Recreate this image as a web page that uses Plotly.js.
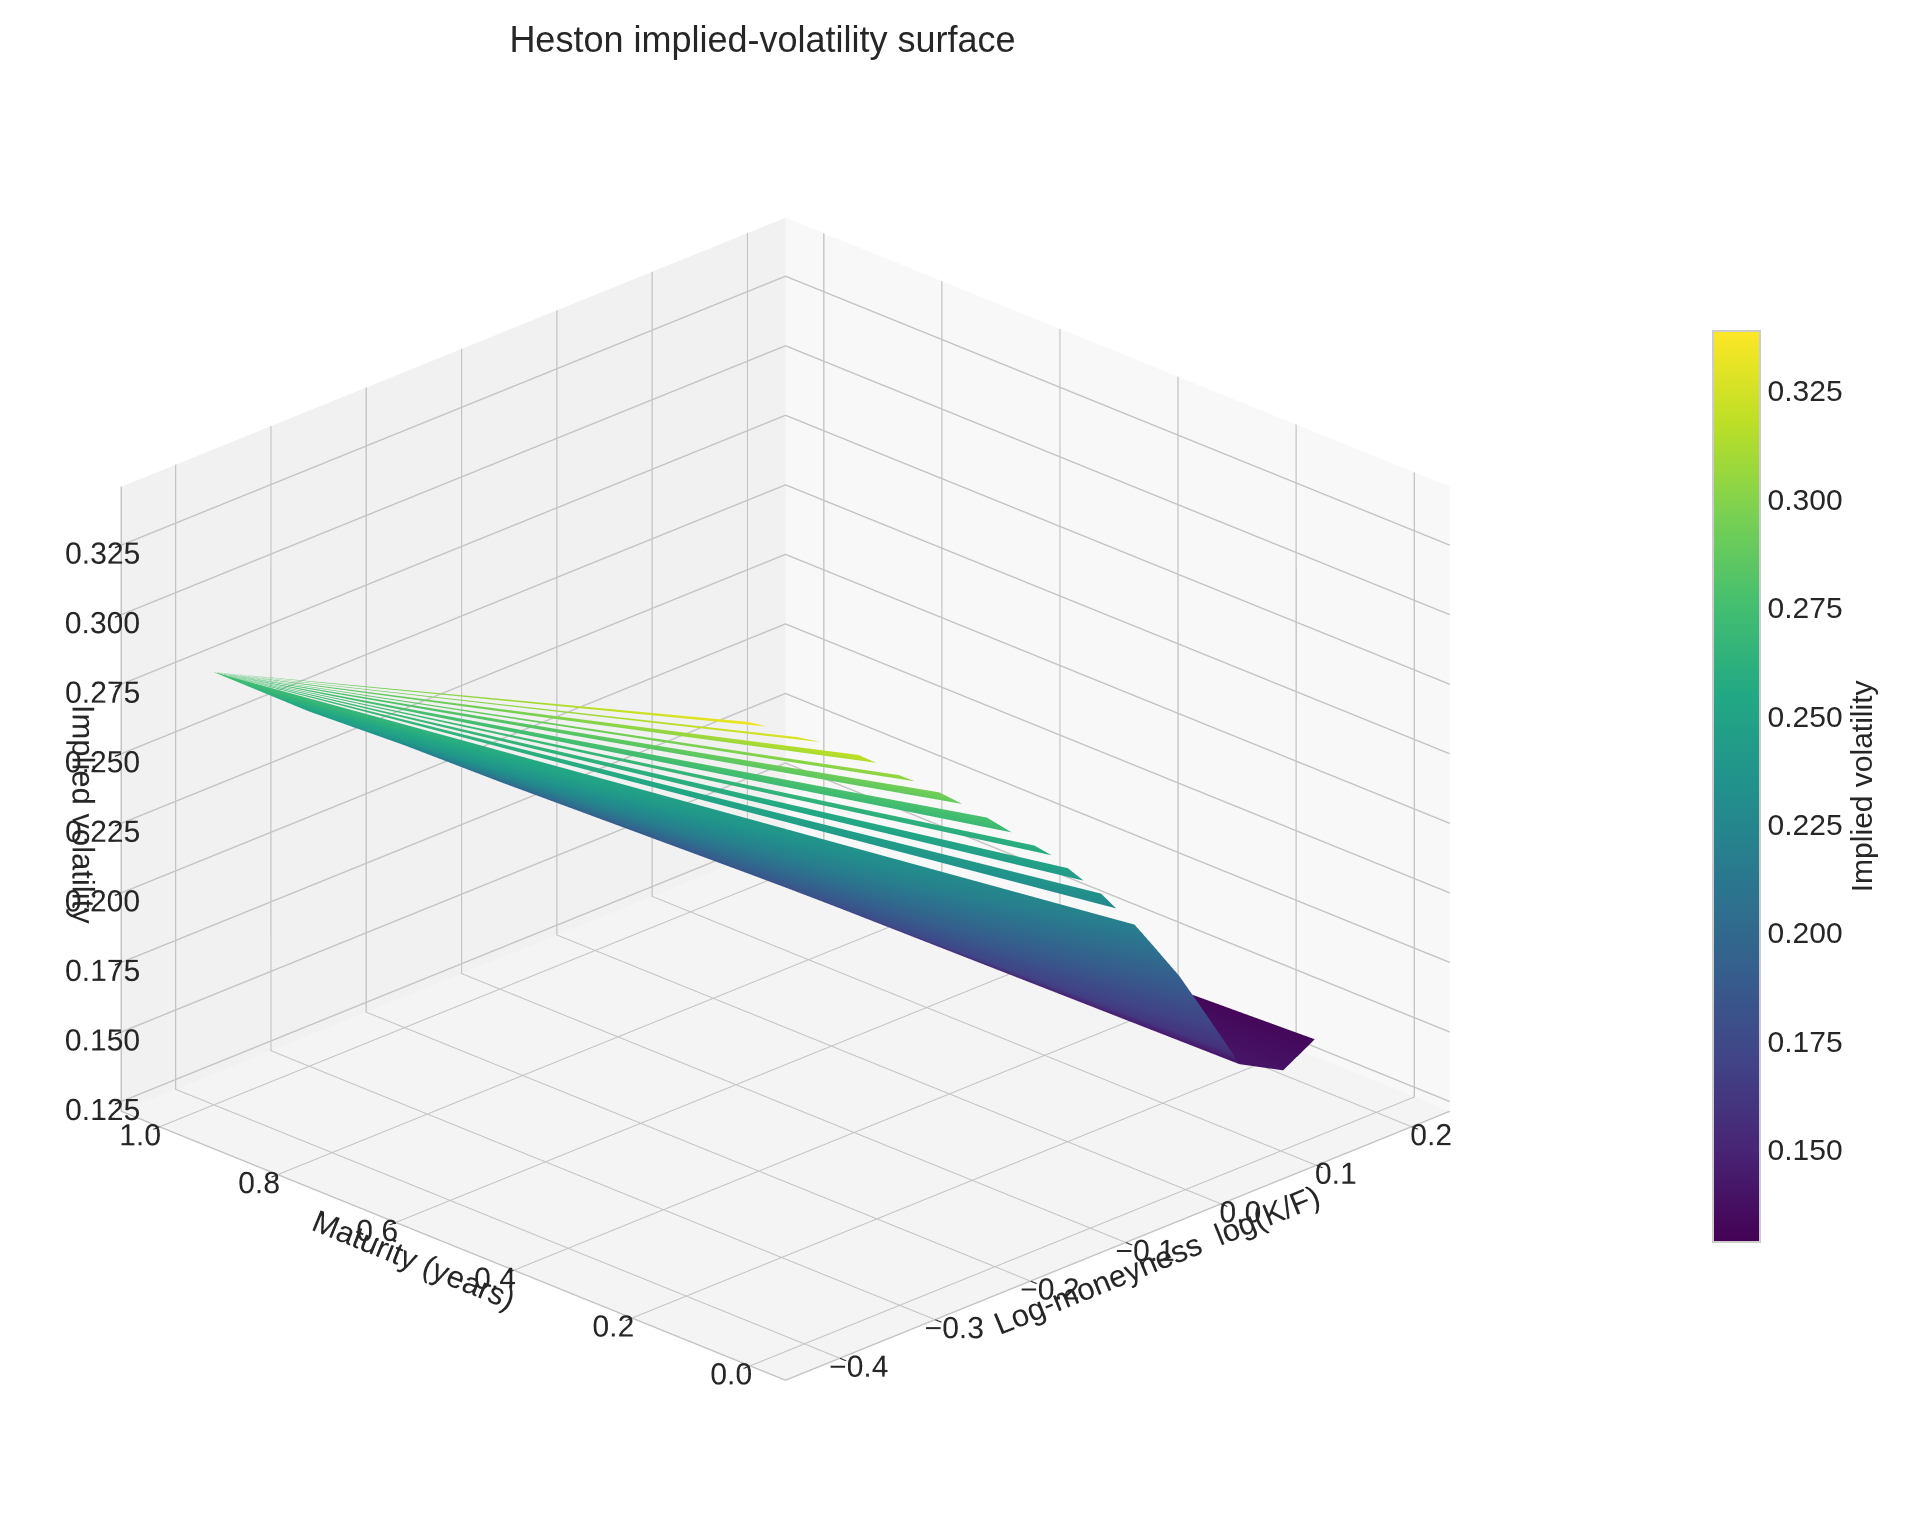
<!DOCTYPE html>
<html>
<head>
<meta charset="utf-8">
<script src="https://cdn.plot.ly/plotly-3.0.1.min.js"></script>
<style>
  html, body { margin: 0; padding: 0; background: #ffffff; }
  #ivPlot { width: 1911px; height: 1518px; }
</style>
</head>
<body>
<div id="ivPlot"></div>
<script>
// Heston implied-vol surface.
// Each row of the surface runs from the 1y corner (apex), through a knee
// on the 1y smile, out to a point on the short-maturity edge.
// A null edge vol marks a failed IV solve and leaves a hole in the surface.

// 1-year smile (long end of the surface); index 0 is the apex
var longMaturity  = 1.0;
var longMoneyness = [-0.40, -0.30, -0.20, -0.10, 0.00, 0.10, 0.20];
var longVol       = [0.277, 0.249, 0.223, 0.196, 0.171, 0.144, 0.131];

// short-maturity edge, one entry per surface row
var edgeMoneyness = [-0.393, -0.381, null, -0.369, -0.347, null, -0.324, -0.300, null,
                     -0.282, -0.260, null, -0.240, -0.208, null, -0.190, -0.155, null,
                     -0.140, -0.116, null, -0.105, -0.083, null, -0.070, -0.049, null,
                     -0.035, -0.016, 0.012, 0.039, 0.067, 0.124, 0.139, 0.221];
var edgeMaturity  = [0.106, 0.084, null, 0.062, 0.045, null, 0.031, 0.030, null,
                     0.030, 0.030, null, 0.030, 0.030, null, 0.030, 0.030, null,
                     0.030, 0.030, null, 0.030, 0.030, null, 0.030, 0.030, null,
                     0.030, 0.030, 0.030, 0.030, 0.030, 0.109, 0.059, 0.138];
var edgeVol       = [0.335, 0.333, null, 0.330, 0.326, null, 0.320, 0.313, null,
                     0.307, 0.301, null, 0.295, 0.285, null, 0.279, 0.267, null,
                     0.262, 0.254, null, 0.249, 0.240, null, 0.235, 0.225, null,
                     0.219, 0.209, 0.194, 0.177, 0.159, 0.140, 0.140, 0.133];
// which point of the 1y smile each row bends through
var kneeIndex     = [0, 0, 0, 0, 0, 0, 0, 0, 0,
                     0, 0, 0, 0, 0, 0, 0, 0, 0,
                     0, 0, 0, 0, 0, 0, 0, 0, 0,
                     0, 0, 1, 2, 3, 4, 5, 6];

var volMin = 0.1288;
var volMax = 0.3388;

var moneynessTicks = [-0.4, -0.3, -0.2, -0.1, 0.0, 0.1, 0.2];
var maturityTicks  = [0.0, 0.2, 0.4, 0.6, 0.8, 1.0];
var volTicks       = [0.125, 0.150, 0.175, 0.200, 0.225, 0.250, 0.275, 0.300, 0.325];
var colorbarTicks  = [0.150, 0.175, 0.200, 0.225, 0.250, 0.275, 0.300, 0.325];

var viridis = [
    [0.0, '#440154'], [0.1, '#482475'], [0.2, '#414487'], [0.3, '#355f8d'],
    [0.4, '#2a788e'], [0.5, '#21918c'], [0.6, '#22a884'], [0.7, '#44bf70'],
    [0.8, '#7ad151'], [0.9, '#bddf26'], [1.0, '#fde725']
];

function buildGrid() {
    var gx = [], gy = [], gz = [];
    for (var i = 0; i < edgeVol.length; ++i) {
        var k = kneeIndex[i];
        if (edgeVol[i] === null) {
            // failed solve: separator row, kills the cells on either side
            gx.push([longMoneyness[0], longMoneyness[k], longMoneyness[k]]);
            gy.push([longMaturity, longMaturity, longMaturity]);
            gz.push([null, null, null]);
        } else {
            gx.push([longMoneyness[0], longMoneyness[k], edgeMoneyness[i]]);
            gy.push([longMaturity, longMaturity, edgeMaturity[i]]);
            gz.push([longVol[0], longVol[k], edgeVol[i]]);
        }
    }
    return { x: gx, y: gy, z: gz };
}

var grid = buildGrid();
var txtColor = '#262626';
var fontFam = 'Liberation Sans, Arial, sans-serif';

var surface = {
    type: 'surface',
    x: grid.x,
    y: grid.y,
    z: grid.z,
    colorscale: viridis,
    cmin: volMin,
    cmax: volMax,
    showscale: true,
    lighting: { ambient: 1.0, diffuse: 0.0, specular: 0.0, roughness: 1.0, fresnel: 0.0 },
    hoverinfo: 'skip',
    colorbar: {
        x: 0.891,
        xanchor: 'left',
        y: 0.482,
        yanchor: 'middle',
        len: 0.613,
        lenmode: 'fraction',
        thickness: 47,
        outlinecolor: '#cccccc',
        outlinewidth: 2,
        ticks: '',
        tickvals: colorbarTicks,
        tickformat: '.3f',
        tickfont: { family: fontFam, size: 30, color: txtColor },
        title: { text: 'Implied volatility', side: 'right', font: { family: fontFam, size: 30, color: txtColor } }
    }
};

function axisStyle(titleText, ticks, fmt, rng, bg) {
    return {
        title: { text: titleText, font: { family: fontFam, size: 31, color: txtColor } },
        range: rng,
        autorange: false,
        tickvals: ticks,
        tickformat: fmt,
        tickangle: 0,
        tickfont: { family: fontFam, size: 19, color: txtColor },
        ticks: 'outside',
        ticklen: 9,
        tickwidth: 3,
        tickcolor: txtColor,
        gridcolor: '#c4c4c4',
        gridwidth: 3,
        showline: true,
        linecolor: '#c4c4c4',
        linewidth: 3,
        zeroline: false,
        showbackground: true,
        backgroundcolor: bg,
        showspikes: false
    };
}

var layout = {
    width: 1911,
    height: 1518,
    paper_bgcolor: '#ffffff',
    margin: { l: 0, r: 0, t: 0, b: 0 },
    title: {
        text: 'Heston implied-volatility surface',
        x: 0.399,
        xanchor: 'center',
        y: 0.974,
        yanchor: 'middle',
        font: { family: fontFam, size: 36, color: txtColor }
    },
    scene: {
        domain: { x: [0.0, 0.822], y: [0.0, 0.947] },
        aspectmode: 'manual',
        aspectratio: { x: 1.3065, y: 1.3065, z: 0.95 },
        camera: {
            eye: { x: -0.99, y: -0.99, z: 0.62 },
            center: { x: 0, y: 0, z: 0 },
            up: { x: 0, y: 0, z: 1 },
            projection: { type: 'orthographic' }
        },
        xaxis: axisStyle('Log-moneyness  log(K/F)', moneynessTicks, '.1f', [-0.457, 0.24], '#f8f8f8'),
        yaxis: axisStyle('Maturity (years)', maturityTicks, '.1f', [-0.06, 1.065], '#f1f1f1'),
        zaxis: axisStyle('Implied volatility', volTicks, '.3f', [0.1215, 0.346], '#f4f4f4')
    }
};

var config = { displayModeBar: false };

Plotly.newPlot('ivPlot', [surface], layout, config);
</script>
</body>
</html>
